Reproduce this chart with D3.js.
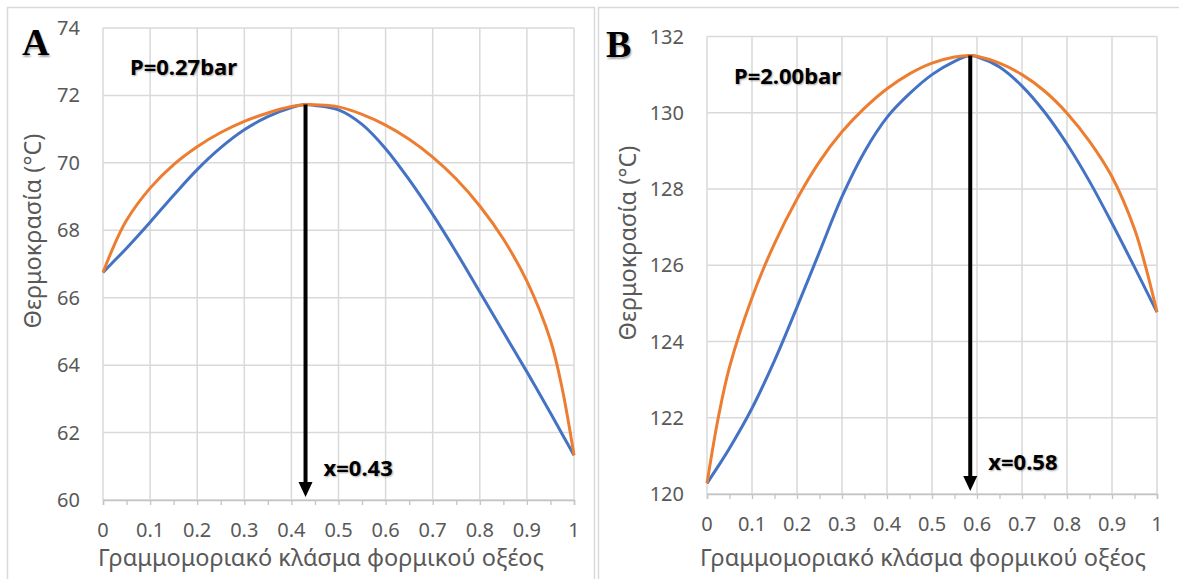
<!DOCTYPE html>
<html>
<head>
<meta charset="utf-8">
<script src="https://cdn.jsdelivr.net/npm/d3@7"></script>
<style>
  body { margin: 0; background: #fff; }
  svg text { font-family: "Noto Sans", "Open Sans", sans-serif; }
  .tick-lbl { fill: #595959; font-size: 20px; }
  .axis-title { fill: #595959; font-size: 23.5px; }
  .note { font-weight: bold; font-size: 22px; fill: #000; text-shadow: 1px 1px 2px rgba(0,0,0,0.35); }
  .panel-letter { font-family: "Liberation Serif", "DejaVu Serif", serif !important; font-weight: bold; font-size: 38px; fill: #000; text-shadow: 1px 2px 2px rgba(0,0,0,0.35); }
</style>
</head>
<body>
<svg id="svg1" width="1179" height="579"></svg>
<script>
//data
const xA = [0, 0.025, 0.05, 0.1, 0.15, 0.2, 0.25, 0.3, 0.35, 0.4, 0.43, 0.45, 0.5, 0.55, 0.6, 0.65, 0.7, 0.75, 0.8, 0.85, 0.9, 0.95, 0.975, 1];
const blueA = [66.75, 67.11, 67.47, 68.24, 69.04, 69.8, 70.45, 70.98, 71.37, 71.64, 71.73, 71.7, 71.57, 71.14, 70.42, 69.5, 68.47, 67.35, 66.17, 64.98, 63.8, 62.58, 61.95, 61.33];
const orangeA = [66.75, 67.6, 68.3, 69.25, 69.95, 70.48, 70.9, 71.23, 71.48, 71.67, 71.73, 71.72, 71.66, 71.44, 71.12, 70.7, 70.17, 69.52, 68.72, 67.74, 66.49, 64.74, 63.3, 61.33];

const xB = [0, 0.025, 0.05, 0.1, 0.15, 0.2, 0.25, 0.3, 0.35, 0.4, 0.45, 0.5, 0.55, 0.585, 0.6, 0.65, 0.7, 0.75, 0.8, 0.85, 0.9, 0.95, 0.975, 1];
const blueB = [120.28, 120.73, 121.2, 122.25, 123.5, 124.9, 126.35, 127.8, 128.98, 129.88, 130.5, 131.0, 131.35, 131.5, 131.47, 131.2, 130.7, 130.02, 129.18, 128.2, 127.1, 125.95, 125.36, 124.77];
const orangeB = [120.28, 122.0, 123.33, 125.15, 126.57, 127.74, 128.72, 129.5, 130.12, 130.63, 131.02, 131.3, 131.46, 131.5, 131.48, 131.3, 131.0, 130.57, 129.99, 129.25, 128.32, 126.95, 125.95, 124.77];

const xTicks = [0, 0.1, 0.2, 0.3, 0.4, 0.5, 0.6, 0.7, 0.8, 0.9, 1];
const xTickLabels = ["0", "0.1", "0.2", "0.3", "0.4", "0.5", "0.6", "0.7", "0.8", "0.9", "1"];
const yTicksA = [60, 62, 64, 66, 68, 70, 72, 74];
const yTicksB = [120, 122, 124, 126, 128, 130, 132];

const azeoA = { x: 0.43, t: 71.73, label: "x=0.43", pressure: "P=0.27bar", letter: "A" };
const azeoB = { x: 0.585, t: 131.5, label: "x=0.58", pressure: "P=2.00bar", letter: "B" };

const xTitle = "Γραμμομοριακό κλάσμα φορμικού οξέος";
const yTitle = "Θερμοκρασία (°C)";

const blue_color = "#4472C4";
const orange_color = "#ED7D31";
const grid_color = "#d9d9d9";

const svg = d3.select("#svg1");

// panel frames
svg.append("rect").attr("x", 7.5).attr("y", 7.5).attr("width", 587).attr("height", 590)
   .attr("fill", "none").attr("stroke", grid_color).attr("stroke-width", 1.5);
svg.append("rect").attr("x", 598.5).attr("y", 7.5).attr("width", 590).attr("height", 590)
   .attr("fill", "none").attr("stroke", grid_color).attr("stroke-width", 1.5);

function drawPanel(p) {
    const xScale = d3.scaleLinear().domain([0, 1]).range([p.left, p.right]);
    const yScale = d3.scaleLinear().domain(p.yDomain).range([p.bottom, p.top]);
    const g = svg.append("g");

    // gridlines
    g.selectAll(".hgrid").data(p.yTicks).join("line")
        .attr("x1", p.left).attr("x2", p.right)
        .attr("y1", d => yScale(d)).attr("y2", d => yScale(d))
        .attr("stroke", grid_color).attr("stroke-width", 1.5);
    g.selectAll(".vgrid").data(xTicks).join("line")
        .attr("x1", d => xScale(d)).attr("x2", d => xScale(d))
        .attr("y1", p.top).attr("y2", p.bottom)
        .attr("stroke", grid_color).attr("stroke-width", 1.5);

    // bottom axis with small ticks every 0.05
    const bottomAxis = d3.axisBottom(xScale)
        .tickValues(d3.range(0, 1.0001, 0.05))
        .tickSize(5).tickFormat("");
    const ax = g.append("g").attr("transform", "translate(0," + p.bottom + ")").call(bottomAxis);
    ax.select(".domain").attr("stroke", "#c4c4c4").attr("stroke-width", 1.5);
    ax.selectAll(".tick line").attr("stroke", "#c4c4c4").attr("stroke-width", 1.3);

    // tick labels
    g.selectAll(".xl").data(xTicks).join("text")
        .attr("class", "tick-lbl")
        .attr("x", d => xScale(d)).attr("y", p.bottom + 37)
        .attr("text-anchor", "middle")
        .text((d, i) => xTickLabels[i]);
    g.selectAll(".yl").data(p.yTicks).join("text")
        .attr("class", "tick-lbl")
        .attr("x", p.left - 23).attr("y", d => yScale(d) + 7)
        .attr("text-anchor", "end")
        .text(d => d);

    // axis titles
    g.append("text").attr("class", "axis-title")
        .attr("x", p.xTitleX).attr("y", 566)
        .attr("text-anchor", "middle").text(xTitle);
    g.append("text").attr("class", "axis-title")
        .attr("transform", "translate(" + p.yTitleX + "," + p.yTitleY + ") rotate(-90)")
        .attr("text-anchor", "middle").text(yTitle);

    // curves
    const line = d3.line().curve(d3.curveCatmullRom.alpha(0.5))
        .x(d => xScale(d[0])).y(d => yScale(d[1]));
    g.append("path").datum(p.xs.map((x, i) => [x, p.blue[i]]))
        .attr("d", line).attr("fill", "none")
        .attr("stroke", blue_color).attr("stroke-width", 3);
    g.append("path").datum(p.xs.map((x, i) => [x, p.orange[i]]))
        .attr("d", line).attr("fill", "none")
        .attr("stroke", orange_color).attr("stroke-width", 3);

    // arrow down from the azeotrope
    const ax0 = xScale(p.azeo.x);
    const tipY = yScale(p.yDomain[0]) - 3;
    g.append("line")
        .attr("x1", ax0).attr("x2", ax0)
        .attr("y1", yScale(p.azeo.t)).attr("y2", tipY - 12)
        .attr("stroke", "#000").attr("stroke-width", 4);
    g.append("path")
        .attr("d", "M" + (ax0 - 7) + "," + (tipY - 15) + "L" + (ax0 + 7) + "," + (tipY - 15) + "L" + ax0 + "," + tipY + "Z")
        .attr("fill", "#000");

    // notes
    g.append("text").attr("class", "note")
        .attr("x", ax0 + 18).attr("y", p.bottom - 24).text(p.azeo.label);
    g.append("text").attr("class", "note")
        .attr("x", p.left + 27).attr("y", p.top + 47).text(p.azeo.pressure);
    g.append("text").attr("class", "panel-letter")
        .attr("x", p.letterX).attr("y", p.letterY).text(p.azeo.letter);
}

drawPanel({
    left: 103, right: 574, top: 28, bottom: 500,
    yDomain: [60, 74], yTicks: yTicksA,
    xs: xA, blue: blueA, orange: orangeA, azeo: azeoA,
    xTitleX: 321, yTitleX: 41, yTitleY: 231, letterX: 22, letterY: 55
});

drawPanel({
    left: 707, right: 1157, top: 36.5, bottom: 494,
    yDomain: [120, 132], yTicks: yTicksB,
    xs: xB, blue: blueB, orange: orangeB, azeo: azeoB,
    xTitleX: 923, yTitleX: 636, yTitleY: 243, letterX: 606, letterY: 57
});
</script>
</body>
</html>
